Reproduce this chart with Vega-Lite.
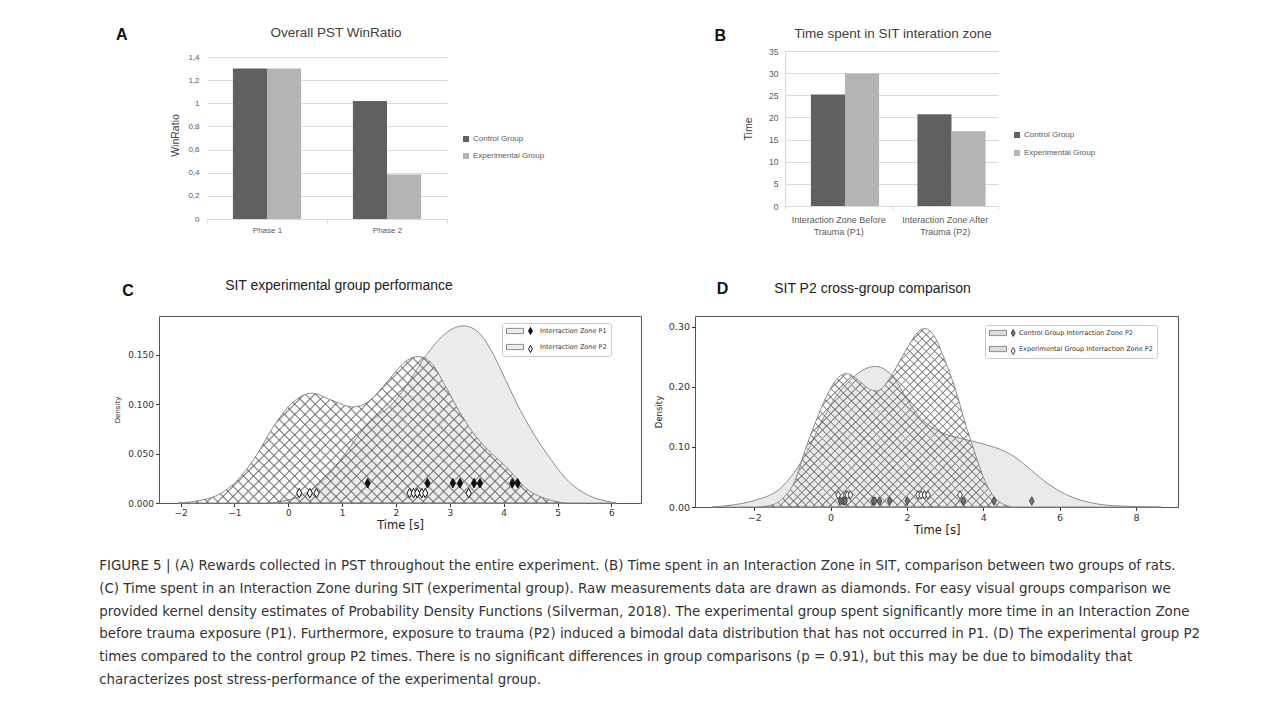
{
  "$schema": "https://vega.github.io/schema/vega-lite/v6.json",
  "background": "white",
  "padding": {"left": 99, "top": 26, "right": 5, "bottom": 5},
  "datasets": {
    "pst": [
      {"phase": "Phase 1", "group": "Control Group", "value": 1.30},
      {"phase": "Phase 1", "group": "Experimental Group", "value": 1.30},
      {"phase": "Phase 2", "group": "Control Group", "value": 1.02},
      {"phase": "Phase 2", "group": "Experimental Group", "value": 0.385}
    ],
    "sit": [
      {"zone": "Interaction Zone Before Trauma  (P1)", "group": "Control Group", "time": 25.2},
      {"zone": "Interaction Zone Before Trauma  (P1)", "group": "Experimental Group", "time": 29.9},
      {"zone": "Interaction Zone After Trauma (P2)", "group": "Control Group", "time": 20.7},
      {"zone": "Interaction Zone After Trauma (P2)", "group": "Experimental Group", "time": 16.9}
    ],
    "kdeC1": [
      {"t": -0.36, "d": 0}, {"t": -0.1, "d": 0.002}, {"t": 0.26, "d": 0.008}, {"t": 0.69, "d": 0.025},
      {"t": 1.06, "d": 0.05}, {"t": 1.4, "d": 0.075}, {"t": 1.65, "d": 0.088}, {"t": 1.93, "d": 0.1},
      {"t": 2.27, "d": 0.125}, {"t": 2.57, "d": 0.15}, {"t": 2.85, "d": 0.168}, {"t": 3.05, "d": 0.176},
      {"t": 3.25, "d": 0.179}, {"t": 3.45, "d": 0.176}, {"t": 3.62, "d": 0.167}, {"t": 3.81, "d": 0.15},
      {"t": 4.03, "d": 0.125}, {"t": 4.25, "d": 0.1}, {"t": 4.5, "d": 0.075}, {"t": 4.8, "d": 0.05},
      {"t": 5.15, "d": 0.025}, {"t": 5.6, "d": 0.007}, {"t": 5.9, "d": 0.002}, {"t": 6.09, "d": 0}
    ],
    "kdeC2": [
      {"t": -2.05, "d": 0}, {"t": -1.7, "d": 0.002}, {"t": -1.31, "d": 0.008}, {"t": -0.91, "d": 0.025},
      {"t": -0.57, "d": 0.05}, {"t": -0.3, "d": 0.075}, {"t": 0.05, "d": 0.1}, {"t": 0.44, "d": 0.111},
      {"t": 0.8, "d": 0.104}, {"t": 1.2, "d": 0.097}, {"t": 1.5, "d": 0.103}, {"t": 1.75, "d": 0.117},
      {"t": 2.0, "d": 0.133}, {"t": 2.2, "d": 0.144}, {"t": 2.42, "d": 0.148}, {"t": 2.65, "d": 0.142},
      {"t": 2.9, "d": 0.12}, {"t": 3.16, "d": 0.094}, {"t": 3.42, "d": 0.072}, {"t": 3.7, "d": 0.054},
      {"t": 4.02, "d": 0.038}, {"t": 4.46, "d": 0.013}, {"t": 4.8, "d": 0.004}, {"t": 5.15, "d": 0}
    ],
    "kdeD1": [
      {"t": -3.1, "d": 0}, {"t": -2.5, "d": 0.004}, {"t": -1.98, "d": 0.011}, {"t": -1.28, "d": 0.033},
      {"t": -0.85, "d": 0.067}, {"t": -0.55, "d": 0.1}, {"t": -0.25, "d": 0.14}, {"t": 0.1, "d": 0.18},
      {"t": 0.5, "d": 0.21}, {"t": 0.85, "d": 0.228}, {"t": 1.16, "d": 0.234}, {"t": 1.45, "d": 0.228},
      {"t": 1.69, "d": 0.212}, {"t": 2.0, "d": 0.18}, {"t": 2.3, "d": 0.152}, {"t": 2.6, "d": 0.135},
      {"t": 2.9, "d": 0.124}, {"t": 3.3, "d": 0.116}, {"t": 3.69, "d": 0.11}, {"t": 4.1, "d": 0.103},
      {"t": 4.48, "d": 0.095}, {"t": 4.83, "d": 0.083}, {"t": 5.26, "d": 0.061}, {"t": 5.69, "d": 0.039},
      {"t": 6.13, "d": 0.022}, {"t": 6.57, "d": 0.011}, {"t": 7.0, "d": 0.005}, {"t": 7.44, "d": 0.002},
      {"t": 8.66, "d": 0}
    ],
    "kdeD2": [
      {"t": -1.9, "d": 0}, {"t": -1.5, "d": 0.004}, {"t": -1.28, "d": 0.013}, {"t": -0.93, "d": 0.044},
      {"t": -0.67, "d": 0.094}, {"t": -0.4, "d": 0.14}, {"t": -0.1, "d": 0.185}, {"t": 0.15, "d": 0.212},
      {"t": 0.42, "d": 0.222}, {"t": 0.75, "d": 0.21}, {"t": 1.0, "d": 0.197}, {"t": 1.2, "d": 0.193},
      {"t": 1.45, "d": 0.205}, {"t": 1.68, "d": 0.228}, {"t": 2.03, "d": 0.267}, {"t": 2.3, "d": 0.292},
      {"t": 2.47, "d": 0.297}, {"t": 2.73, "d": 0.283}, {"t": 2.99, "d": 0.245}, {"t": 3.25, "d": 0.2},
      {"t": 3.56, "d": 0.133}, {"t": 3.78, "d": 0.09}, {"t": 4.0, "d": 0.05}, {"t": 4.31, "d": 0.015},
      {"t": 4.74, "d": 0}
    ],
    "ptsC": [
      {"series": "Interraction Zone P1", "t": 1.475, "d": 0.02},
      {"series": "Interraction Zone P1", "t": 2.586, "d": 0.02},
      {"series": "Interraction Zone P1", "t": 3.056, "d": 0.02},
      {"series": "Interraction Zone P1", "t": 3.19, "d": 0.02},
      {"series": "Interraction Zone P1", "t": 3.45, "d": 0.02},
      {"series": "Interraction Zone P1", "t": 3.56, "d": 0.02},
      {"series": "Interraction Zone P1", "t": 4.16, "d": 0.02},
      {"series": "Interraction Zone P1", "t": 4.26, "d": 0.02},
      {"series": "Interraction Zone P2", "t": 0.204, "d": 0.01},
      {"series": "Interraction Zone P2", "t": 0.4, "d": 0.01},
      {"series": "Interraction Zone P2", "t": 0.525, "d": 0.01},
      {"series": "Interraction Zone P2", "t": 2.253, "d": 0.01},
      {"series": "Interraction Zone P2", "t": 2.327, "d": 0.01},
      {"series": "Interraction Zone P2", "t": 2.395, "d": 0.01},
      {"series": "Interraction Zone P2", "t": 2.48, "d": 0.01},
      {"series": "Interraction Zone P2", "t": 2.543, "d": 0.01},
      {"series": "Interraction Zone P2", "t": 3.35, "d": 0.01}
    ],
    "ptsD": [
      {"series": "Experimental Group Interraction Zone P2", "t": 0.2, "d": 0.02},
      {"series": "Experimental Group Interraction Zone P2", "t": 0.4, "d": 0.02},
      {"series": "Experimental Group Interraction Zone P2", "t": 0.44, "d": 0.02},
      {"series": "Experimental Group Interraction Zone P2", "t": 0.52, "d": 0.02},
      {"series": "Experimental Group Interraction Zone P2", "t": 2.29, "d": 0.02},
      {"series": "Experimental Group Interraction Zone P2", "t": 2.37, "d": 0.02},
      {"series": "Experimental Group Interraction Zone P2", "t": 2.46, "d": 0.02},
      {"series": "Experimental Group Interraction Zone P2", "t": 2.55, "d": 0.02},
      {"series": "Experimental Group Interraction Zone P2", "t": 3.39, "d": 0.02},
      {"series": "Control Group  Interraction Zone P2", "t": 0.26, "d": 0.01},
      {"series": "Control Group  Interraction Zone P2", "t": 0.33, "d": 0.01},
      {"series": "Control Group  Interraction Zone P2", "t": 0.38, "d": 0.01},
      {"series": "Control Group  Interraction Zone P2", "t": 1.12, "d": 0.01},
      {"series": "Control Group  Interraction Zone P2", "t": 1.16, "d": 0.01},
      {"series": "Control Group  Interraction Zone P2", "t": 1.28, "d": 0.01},
      {"series": "Control Group  Interraction Zone P2", "t": 1.55, "d": 0.01},
      {"series": "Control Group  Interraction Zone P2", "t": 2.01, "d": 0.01},
      {"series": "Control Group  Interraction Zone P2", "t": 3.48, "d": 0.01},
      {"series": "Control Group  Interraction Zone P2", "t": 4.28, "d": 0.01},
      {"series": "Control Group  Interraction Zone P2", "t": 5.27, "d": 0.01}
    ]
  },
  "title": {
    "text": [
      "FIGURE 5 | (A) Rewards collected in PST throughout the entire experiment. (B) Time spent in an Interaction Zone in SIT, comparison between two groups of rats.",
      "(C) Time spent in an Interaction Zone during SIT (experimental group). Raw measurements data are drawn as diamonds. For easy visual groups comparison we",
      "provided kernel density estimates of Probability Density Functions (Silverman, 2018). The experimental group spent significantly more time in an Interaction Zone",
      "before trauma exposure (P1). Furthermore, exposure to trauma (P2) induced a bimodal data distribution that has not occurred in P1. (D) The experimental group P2",
      "times compared to the control group P2 times. There is no significant differences in group comparisons (p = 0.91), but this may be due to bimodality that",
      "characterizes post stress-performance of the experimental group."
    ],
    "orient": "bottom",
    "anchor": "start",
    "frame": "bounds",
    "font": "DejaVu Sans Condensed",
    "fontSize": 14.9,
    "fontWeight": "normal",
    "color": "#333333",
    "lineHeight": 22.8,
    "offset": 22,
    "dx": -14
  },
  "spacing": 42,
  "resolve": {"scale": {"color": "independent", "fill": "independent", "stroke": "independent"}, "legend": {"color": "independent", "fill": "independent", "stroke": "independent"}},
  "vconcat": [
    {
      "spacing": 169,
      "resolve": {"scale": {"color": "independent"}, "legend": {"color": "independent"}},
      "hconcat": [
        {
          "title": {"text": "A", "anchor": "start", "frame": "bounds", "font": "Liberation Sans", "fontSize": 16, "fontWeight": "bold", "color": "#111111", "offset": 0, "dx": -43, "dy": 17},
          "resolve": {"scale": {"color": "independent"}, "legend": {"color": "independent"}},
          "vconcat": [
            {
              "width": 288,
              "height": 168,
              "title": {"text": "Overall PST WinRatio", "anchor": "middle", "frame": "group", "font": "Liberation Sans", "fontSize": 13.5, "fontWeight": "normal", "color": "#404040", "offset": 11.5, "dx": 33},
              "data": {"name": "pst"},
              "mark": {"type": "bar"},
              "encoding": {
                "x": {"field": "phase", "type": "nominal", "sort": null,
                  "scale": {"range": [48, 288], "paddingInner": 0, "paddingOuter": 0},
                  "axis": {"title": null, "labelAngle": 0, "tickBand": "extent", "tickSize": 4, "tickColor": "#d9d9d9", "domainColor": "#d9d9d9", "labelColor": "#595959", "labelFontSize": 8, "labelPadding": 3, "labelFont": "Liberation Sans"}},
                "xOffset": {"field": "group", "type": "nominal", "sort": null, "scale": {"paddingInner": 0, "paddingOuter": 0.76}},
                "y": {"field": "value", "type": "quantitative",
                  "scale": {"domain": [0, 1.4519], "nice": false},
                  "axis": {"title": "WinRatio", "offset": -48, "values": [0, 0.2, 0.4, 0.6, 0.8, 1, 1.2, 1.4], "format": "~g", "labelExpr": "replace(datum.label, '.', ',')", "grid": true, "gridColor": "#d9d9d9", "domain": false, "ticks": false, "labelPadding": 8, "labelFontSize": 8, "labelColor": "#595959", "labelFont": "Liberation Sans", "titleFont": "Liberation Sans", "titleFontSize": 10.5, "titleFontWeight": "normal", "titleColor": "#404040", "titlePadding": 7}},
                "color": {"field": "group", "type": "nominal",
                  "scale": {"domain": ["Control Group", "Experimental Group"], "range": ["#606060", "#b4b4b4"]},
                  "legend": {"orient": "none", "legendX": 303, "legendY": 84, "title": null, "symbolType": "square", "symbolSize": 36, "labelFontSize": 8, "labelColor": "#595959", "labelFont": "Liberation Sans", "rowPadding": 9, "labelOffset": 3, "padding": 0}}
              }
            }
          ]
        },
        {
          "title": {"text": "B", "anchor": "start", "frame": "bounds", "font": "Liberation Sans", "fontSize": 16, "fontWeight": "bold", "color": "#111111", "offset": 0, "dx": -29, "dy": 17},
          "resolve": {"scale": {"color": "independent"}, "legend": {"color": "independent"}},
          "vconcat": [
            {
              "width": 213,
              "height": 155,
              "title": {"text": "Time spent in SIT interation zone", "anchor": "middle", "frame": "group", "font": "Liberation Sans", "fontSize": 13.5, "fontWeight": "normal", "color": "#404040", "offset": 7, "dx": 1.5},
              "data": {"name": "sit"},
              "mark": {"type": "bar"},
              "encoding": {
                "x": {"field": "zone", "type": "nominal", "sort": null,
                  "scale": {"paddingInner": 0, "paddingOuter": 0},
                  "axis": {"title": null, "labelAngle": 0, "tickBand": "extent", "tickSize": 4, "tickColor": "#d9d9d9", "domainColor": "#d9d9d9", "labelColor": "#595959", "labelFontSize": 9, "labelPadding": 5, "labelLineHeight": 12, "labelFont": "Liberation Sans", "labelExpr": "split(replace(datum.label, ' Trauma', '|Trauma'), '|')"}},
                "xOffset": {"field": "group", "type": "nominal", "sort": null, "scale": {"paddingInner": 0, "paddingOuter": 0.775}},
                "y": {"field": "time", "type": "quantitative",
                  "scale": {"domain": [0, 35], "nice": false},
                  "axis": {"title": "Time", "values": [0, 5, 10, 15, 20, 25, 30, 35], "grid": true, "gridColor": "#d9d9d9", "domainColor": "#d9d9d9", "ticks": false, "labelPadding": 7, "labelFontSize": 8.5, "labelColor": "#595959", "labelFont": "Liberation Sans", "titleFont": "Liberation Sans", "titleFontSize": 10.5, "titleFontWeight": "normal", "titleColor": "#404040", "titlePadding": 15}},
                "color": {"field": "group", "type": "nominal",
                  "scale": {"domain": ["Control Group", "Experimental Group"], "range": ["#606060", "#b4b4b4"]},
                  "legend": {"orient": "none", "legendX": 228, "legendY": 80, "title": null, "symbolType": "square", "symbolSize": 36, "labelFontSize": 8, "labelColor": "#595959", "labelFont": "Liberation Sans", "rowPadding": 10, "labelOffset": 3, "padding": 0}}
              }
            }
          ]
        }
      ]
    },
    {
      "spacing": 11,
      "resolve": {"scale": {"fill": "independent", "stroke": "independent"}, "legend": {"fill": "independent", "stroke": "independent"}},
      "hconcat": [
        {
          "title": {"text": "C", "anchor": "start", "frame": "bounds", "font": "Liberation Sans", "fontSize": 16, "fontWeight": "bold", "color": "#111111", "offset": 0, "dx": 9, "dy": 20},
          "resolve": {"scale": {"fill": "independent", "stroke": "independent"}, "legend": {"fill": "independent", "stroke": "independent"}},
          "vconcat": [
            {
              "width": 482,
              "height": 187,
              "view": {"stroke": "#555555", "strokeWidth": 1},
              "title": {"text": "SIT experimental group performance", "anchor": "middle", "frame": "group", "font": "Liberation Sans", "fontSize": 14, "fontWeight": "normal", "color": "#222222", "offset": 23, "dx": -61},
              "layer": [
                {
                  "data": {"name": "kdeC1"},
                  "mark": {"type": "area", "interpolate": "monotone", "fill": "#ececec", "strokeWidth": 1},
                  "encoding": {
                    "x": {"field": "t", "type": "quantitative", "scale": {"domain": [-2.4, 6.55], "nice": false, "zero": false},
                      "axis": {"title": "Time [s]", "values": [-2, -1, 0, 1, 2, 3, 4, 5, 6], "format": "d", "grid": false, "domain": false, "tickSize": 3.5, "tickColor": "#333333", "labelColor": "#333333", "labelFont": "DejaVu Sans", "labelFontSize": 9, "labelPadding": 2, "titleFont": "DejaVu Sans", "titleFontSize": 11.5, "titleFontWeight": "normal", "titleColor": "#222222", "titlePadding": 2}},
                    "y": {"field": "d", "type": "quantitative", "scale": {"domain": [0, 0.189], "nice": false},
                      "axis": {"title": "Density", "values": [0, 0.025, 0.05, 0.075, 0.1, 0.125, 0.15, 0.175], "format": ".3f", "grid": false, "domain": false, "tickSize": 3.5, "tickColor": "#333333", "labelColor": "#333333", "labelFont": "DejaVu Sans", "labelFontSize": 9, "labelPadding": 2, "titleFont": "DejaVu Sans", "titleFontSize": 7, "titleFontWeight": "normal", "titleColor": "#222222", "titlePadding": 7}},
                    "stroke": {"datum": "Interraction Zone P1", "type": "nominal",
                      "scale": {"domain": ["Interraction Zone P1", "Interraction Zone P2"], "range": ["#8c8c8c", "#8c8c8c"]},
                      "legend": {"orient": "none", "legendX": 343, "legendY": 7, "title": null, "symbolType": "M-1,-0.75H3.86V0.75H-1Z", "symbolSize": 49, "symbolStrokeWidth": 1, "labelFont": "DejaVu Sans", "labelFontSize": 6.5, "labelColor": "#333333", "labelOffset": 26, "rowPadding": 6, "padding": 4, "strokeColor": "#cccccc", "cornerRadius": 2,
                        "encode": {"symbols": {"update": {"fill": {"value": "#ececec"}, "stroke": {"value": "#8c8c8c"}, "strokeWidth": {"value": 1}}}}}}
                  }
                },
                {
                  "data": {"name": "kdeC2"},
                  "mark": {"type": "area", "interpolate": "monotone", "strokeWidth": 1,
                    "fill": {"gradient": "linear", "x1": 0, "y1": 0, "x2": 1.2057, "y2": 0.4553, "stops": [{"offset":0.0167,"color":"transparent"},{"offset":0.0192,"color":"#999"},{"offset":0.0217,"color":"transparent"},{"offset":0.036,"color":"transparent"},{"offset":0.0385,"color":"#999"},{"offset":0.041,"color":"transparent"},{"offset":0.0552,"color":"transparent"},{"offset":0.0577,"color":"#999"},{"offset":0.0602,"color":"transparent"},{"offset":0.0744,"color":"transparent"},{"offset":0.0769,"color":"#999"},{"offset":0.0794,"color":"transparent"},{"offset":0.0937,"color":"transparent"},{"offset":0.0962,"color":"#999"},{"offset":0.0987,"color":"transparent"},{"offset":0.1129,"color":"transparent"},{"offset":0.1154,"color":"#999"},{"offset":0.1179,"color":"transparent"},{"offset":0.1321,"color":"transparent"},{"offset":0.1346,"color":"#999"},{"offset":0.1371,"color":"transparent"},{"offset":0.1513,"color":"transparent"},{"offset":0.1538,"color":"#999"},{"offset":0.1563,"color":"transparent"},{"offset":0.1706,"color":"transparent"},{"offset":0.1731,"color":"#999"},{"offset":0.1756,"color":"transparent"},{"offset":0.1898,"color":"transparent"},{"offset":0.1923,"color":"#999"},{"offset":0.1948,"color":"transparent"},{"offset":0.209,"color":"transparent"},{"offset":0.2115,"color":"#999"},{"offset":0.214,"color":"transparent"},{"offset":0.2283,"color":"transparent"},{"offset":0.2308,"color":"#999"},{"offset":0.2333,"color":"transparent"},{"offset":0.2475,"color":"transparent"},{"offset":0.25,"color":"#999"},{"offset":0.2525,"color":"transparent"},{"offset":0.2667,"color":"transparent"},{"offset":0.2692,"color":"#999"},{"offset":0.2717,"color":"transparent"},{"offset":0.286,"color":"transparent"},{"offset":0.2885,"color":"#999"},{"offset":0.291,"color":"transparent"},{"offset":0.3052,"color":"transparent"},{"offset":0.3077,"color":"#999"},{"offset":0.3102,"color":"transparent"},{"offset":0.3244,"color":"transparent"},{"offset":0.3269,"color":"#999"},{"offset":0.3294,"color":"transparent"},{"offset":0.3437,"color":"transparent"},{"offset":0.3462,"color":"#999"},{"offset":0.3487,"color":"transparent"},{"offset":0.3629,"color":"transparent"},{"offset":0.3654,"color":"#999"},{"offset":0.3679,"color":"transparent"},{"offset":0.3821,"color":"transparent"},{"offset":0.3846,"color":"#999"},{"offset":0.3871,"color":"transparent"},{"offset":0.4013,"color":"transparent"},{"offset":0.4038,"color":"#999"},{"offset":0.4063,"color":"transparent"},{"offset":0.4206,"color":"transparent"},{"offset":0.4231,"color":"#999"},{"offset":0.4256,"color":"transparent"},{"offset":0.4398,"color":"transparent"},{"offset":0.4423,"color":"#999"},{"offset":0.4448,"color":"transparent"},{"offset":0.459,"color":"transparent"},{"offset":0.4615,"color":"#999"},{"offset":0.464,"color":"transparent"},{"offset":0.4783,"color":"transparent"},{"offset":0.4808,"color":"#999"},{"offset":0.4833,"color":"transparent"},{"offset":0.4975,"color":"transparent"},{"offset":0.5,"color":"#999"},{"offset":0.5025,"color":"transparent"},{"offset":0.5167,"color":"transparent"},{"offset":0.5192,"color":"#999"},{"offset":0.5217,"color":"transparent"},{"offset":0.536,"color":"transparent"},{"offset":0.5385,"color":"#999"},{"offset":0.541,"color":"transparent"},{"offset":0.5552,"color":"transparent"},{"offset":0.5577,"color":"#999"},{"offset":0.5602,"color":"transparent"},{"offset":0.5744,"color":"transparent"},{"offset":0.5769,"color":"#999"},{"offset":0.5794,"color":"transparent"},{"offset":0.5937,"color":"transparent"},{"offset":0.5962,"color":"#999"},{"offset":0.5987,"color":"transparent"},{"offset":0.6129,"color":"transparent"},{"offset":0.6154,"color":"#999"},{"offset":0.6179,"color":"transparent"},{"offset":0.6321,"color":"transparent"},{"offset":0.6346,"color":"#999"},{"offset":0.6371,"color":"transparent"},{"offset":0.6513,"color":"transparent"},{"offset":0.6538,"color":"#999"},{"offset":0.6563,"color":"transparent"},{"offset":0.6706,"color":"transparent"},{"offset":0.6731,"color":"#999"},{"offset":0.6756,"color":"transparent"},{"offset":0.6898,"color":"transparent"},{"offset":0.6923,"color":"#999"},{"offset":0.6948,"color":"transparent"},{"offset":0.709,"color":"transparent"},{"offset":0.7115,"color":"#999"},{"offset":0.714,"color":"transparent"},{"offset":0.7283,"color":"transparent"},{"offset":0.7308,"color":"#999"},{"offset":0.7333,"color":"transparent"},{"offset":0.7475,"color":"transparent"},{"offset":0.75,"color":"#999"},{"offset":0.7525,"color":"transparent"},{"offset":0.7667,"color":"transparent"},{"offset":0.7692,"color":"#999"},{"offset":0.7717,"color":"transparent"},{"offset":0.786,"color":"transparent"},{"offset":0.7885,"color":"#999"},{"offset":0.791,"color":"transparent"},{"offset":0.8052,"color":"transparent"},{"offset":0.8077,"color":"#999"},{"offset":0.8102,"color":"transparent"},{"offset":0.8244,"color":"transparent"},{"offset":0.8269,"color":"#999"},{"offset":0.8294,"color":"transparent"},{"offset":0.8437,"color":"transparent"},{"offset":0.8462,"color":"#999"},{"offset":0.8487,"color":"transparent"},{"offset":0.8629,"color":"transparent"},{"offset":0.8654,"color":"#999"},{"offset":0.8679,"color":"transparent"},{"offset":0.8821,"color":"transparent"},{"offset":0.8846,"color":"#999"},{"offset":0.8871,"color":"transparent"},{"offset":0.9013,"color":"transparent"},{"offset":0.9038,"color":"#999"},{"offset":0.9063,"color":"transparent"},{"offset":0.9206,"color":"transparent"},{"offset":0.9231,"color":"#999"},{"offset":0.9256,"color":"transparent"},{"offset":0.9398,"color":"transparent"},{"offset":0.9423,"color":"#999"},{"offset":0.9448,"color":"transparent"},{"offset":0.959,"color":"transparent"},{"offset":0.9615,"color":"#999"},{"offset":0.964,"color":"transparent"},{"offset":0.9783,"color":"transparent"},{"offset":0.9808,"color":"#999"},{"offset":0.9833,"color":"transparent"}]}},
                  "encoding": {
                    "x": {"field": "t", "type": "quantitative"},
                    "y": {"field": "d", "type": "quantitative"},
                    "stroke": {"datum": "Interraction Zone P2", "type": "nominal"}
                  }
                },
                {
                  "data": {"name": "kdeC2"},
                  "mark": {"type": "area", "interpolate": "monotone", "strokeWidth": 0,
                    "fill": {"gradient": "linear", "x1": 1, "y1": 0, "x2": -0.2057, "y2": 0.4553, "stops": [{"offset":0.0167,"color":"transparent"},{"offset":0.0192,"color":"#999"},{"offset":0.0217,"color":"transparent"},{"offset":0.036,"color":"transparent"},{"offset":0.0385,"color":"#999"},{"offset":0.041,"color":"transparent"},{"offset":0.0552,"color":"transparent"},{"offset":0.0577,"color":"#999"},{"offset":0.0602,"color":"transparent"},{"offset":0.0744,"color":"transparent"},{"offset":0.0769,"color":"#999"},{"offset":0.0794,"color":"transparent"},{"offset":0.0937,"color":"transparent"},{"offset":0.0962,"color":"#999"},{"offset":0.0987,"color":"transparent"},{"offset":0.1129,"color":"transparent"},{"offset":0.1154,"color":"#999"},{"offset":0.1179,"color":"transparent"},{"offset":0.1321,"color":"transparent"},{"offset":0.1346,"color":"#999"},{"offset":0.1371,"color":"transparent"},{"offset":0.1513,"color":"transparent"},{"offset":0.1538,"color":"#999"},{"offset":0.1563,"color":"transparent"},{"offset":0.1706,"color":"transparent"},{"offset":0.1731,"color":"#999"},{"offset":0.1756,"color":"transparent"},{"offset":0.1898,"color":"transparent"},{"offset":0.1923,"color":"#999"},{"offset":0.1948,"color":"transparent"},{"offset":0.209,"color":"transparent"},{"offset":0.2115,"color":"#999"},{"offset":0.214,"color":"transparent"},{"offset":0.2283,"color":"transparent"},{"offset":0.2308,"color":"#999"},{"offset":0.2333,"color":"transparent"},{"offset":0.2475,"color":"transparent"},{"offset":0.25,"color":"#999"},{"offset":0.2525,"color":"transparent"},{"offset":0.2667,"color":"transparent"},{"offset":0.2692,"color":"#999"},{"offset":0.2717,"color":"transparent"},{"offset":0.286,"color":"transparent"},{"offset":0.2885,"color":"#999"},{"offset":0.291,"color":"transparent"},{"offset":0.3052,"color":"transparent"},{"offset":0.3077,"color":"#999"},{"offset":0.3102,"color":"transparent"},{"offset":0.3244,"color":"transparent"},{"offset":0.3269,"color":"#999"},{"offset":0.3294,"color":"transparent"},{"offset":0.3437,"color":"transparent"},{"offset":0.3462,"color":"#999"},{"offset":0.3487,"color":"transparent"},{"offset":0.3629,"color":"transparent"},{"offset":0.3654,"color":"#999"},{"offset":0.3679,"color":"transparent"},{"offset":0.3821,"color":"transparent"},{"offset":0.3846,"color":"#999"},{"offset":0.3871,"color":"transparent"},{"offset":0.4013,"color":"transparent"},{"offset":0.4038,"color":"#999"},{"offset":0.4063,"color":"transparent"},{"offset":0.4206,"color":"transparent"},{"offset":0.4231,"color":"#999"},{"offset":0.4256,"color":"transparent"},{"offset":0.4398,"color":"transparent"},{"offset":0.4423,"color":"#999"},{"offset":0.4448,"color":"transparent"},{"offset":0.459,"color":"transparent"},{"offset":0.4615,"color":"#999"},{"offset":0.464,"color":"transparent"},{"offset":0.4783,"color":"transparent"},{"offset":0.4808,"color":"#999"},{"offset":0.4833,"color":"transparent"},{"offset":0.4975,"color":"transparent"},{"offset":0.5,"color":"#999"},{"offset":0.5025,"color":"transparent"},{"offset":0.5167,"color":"transparent"},{"offset":0.5192,"color":"#999"},{"offset":0.5217,"color":"transparent"},{"offset":0.536,"color":"transparent"},{"offset":0.5385,"color":"#999"},{"offset":0.541,"color":"transparent"},{"offset":0.5552,"color":"transparent"},{"offset":0.5577,"color":"#999"},{"offset":0.5602,"color":"transparent"},{"offset":0.5744,"color":"transparent"},{"offset":0.5769,"color":"#999"},{"offset":0.5794,"color":"transparent"},{"offset":0.5937,"color":"transparent"},{"offset":0.5962,"color":"#999"},{"offset":0.5987,"color":"transparent"},{"offset":0.6129,"color":"transparent"},{"offset":0.6154,"color":"#999"},{"offset":0.6179,"color":"transparent"},{"offset":0.6321,"color":"transparent"},{"offset":0.6346,"color":"#999"},{"offset":0.6371,"color":"transparent"},{"offset":0.6513,"color":"transparent"},{"offset":0.6538,"color":"#999"},{"offset":0.6563,"color":"transparent"},{"offset":0.6706,"color":"transparent"},{"offset":0.6731,"color":"#999"},{"offset":0.6756,"color":"transparent"},{"offset":0.6898,"color":"transparent"},{"offset":0.6923,"color":"#999"},{"offset":0.6948,"color":"transparent"},{"offset":0.709,"color":"transparent"},{"offset":0.7115,"color":"#999"},{"offset":0.714,"color":"transparent"},{"offset":0.7283,"color":"transparent"},{"offset":0.7308,"color":"#999"},{"offset":0.7333,"color":"transparent"},{"offset":0.7475,"color":"transparent"},{"offset":0.75,"color":"#999"},{"offset":0.7525,"color":"transparent"},{"offset":0.7667,"color":"transparent"},{"offset":0.7692,"color":"#999"},{"offset":0.7717,"color":"transparent"},{"offset":0.786,"color":"transparent"},{"offset":0.7885,"color":"#999"},{"offset":0.791,"color":"transparent"},{"offset":0.8052,"color":"transparent"},{"offset":0.8077,"color":"#999"},{"offset":0.8102,"color":"transparent"},{"offset":0.8244,"color":"transparent"},{"offset":0.8269,"color":"#999"},{"offset":0.8294,"color":"transparent"},{"offset":0.8437,"color":"transparent"},{"offset":0.8462,"color":"#999"},{"offset":0.8487,"color":"transparent"},{"offset":0.8629,"color":"transparent"},{"offset":0.8654,"color":"#999"},{"offset":0.8679,"color":"transparent"},{"offset":0.8821,"color":"transparent"},{"offset":0.8846,"color":"#999"},{"offset":0.8871,"color":"transparent"},{"offset":0.9013,"color":"transparent"},{"offset":0.9038,"color":"#999"},{"offset":0.9063,"color":"transparent"},{"offset":0.9206,"color":"transparent"},{"offset":0.9231,"color":"#999"},{"offset":0.9256,"color":"transparent"},{"offset":0.9398,"color":"transparent"},{"offset":0.9423,"color":"#999"},{"offset":0.9448,"color":"transparent"},{"offset":0.959,"color":"transparent"},{"offset":0.9615,"color":"#999"},{"offset":0.964,"color":"transparent"},{"offset":0.9783,"color":"transparent"},{"offset":0.9808,"color":"#999"},{"offset":0.9833,"color":"transparent"}]}},
                  "encoding": {
                    "x": {"field": "t", "type": "quantitative"},
                    "y": {"field": "d", "type": "quantitative"}
                  }
                },
                {
                  "data": {"name": "ptsC"},
                  "mark": {"type": "point", "shape": "M0,-1L0.55,0L0,1L-0.55,0Z", "size": 90, "filled": true, "opacity": 1, "stroke": "#111111", "strokeWidth": 1},
                  "encoding": {
                    "x": {"field": "t", "type": "quantitative"},
                    "y": {"field": "d", "type": "quantitative"},
                    "fill": {"field": "series", "type": "nominal",
                      "scale": {"range": ["#111111", "#ffffff"]},
                      "legend": {"orient": "none", "legendX": 367.5, "legendY": 11, "title": null, "symbolType": "M0,-1L0.55,0L0,1L-0.55,0Z", "symbolSize": 49, "symbolStrokeColor": "#111111", "symbolStrokeWidth": 1, "labelFont": "DejaVu Sans", "labelFontSize": 6.5, "labelOpacity": 0, "rowPadding": 6, "padding": 0}}
                  }
                }
              ]
            }
          ]
        },
        {
          "title": {"text": "D", "anchor": "start", "frame": "bounds", "font": "Liberation Sans", "fontSize": 16, "fontWeight": "bold", "color": "#111111", "offset": 0, "dx": 63, "dy": 16},
          "resolve": {"scale": {"fill": "independent", "stroke": "independent"}, "legend": {"fill": "independent", "stroke": "independent"}},
          "vconcat": [
            {
              "width": 483,
              "height": 191,
              "view": {"stroke": "#555555", "strokeWidth": 1},
              "title": {"text": "SIT P2 cross-group comparison", "anchor": "middle", "frame": "group", "font": "Liberation Sans", "fontSize": 14, "fontWeight": "normal", "color": "#222222", "offset": 20.5, "dx": -64},
              "layer": [
                {
                  "data": {"name": "kdeD1"},
                  "mark": {"type": "area", "interpolate": "monotone", "fill": "#dcdcdc", "fillOpacity": 0.6, "strokeWidth": 1},
                  "encoding": {
                    "x": {"field": "t", "type": "quantitative", "scale": {"domain": [-3.55, 9.1], "nice": false, "zero": false},
                      "axis": {"title": "Time [s]", "values": [-2, 0, 2, 4, 6, 8], "format": "d", "grid": false, "domain": false, "tickSize": 3.5, "tickColor": "#333333", "labelColor": "#333333", "labelFont": "DejaVu Sans", "labelFontSize": 9.5, "labelPadding": 2, "titleFont": "DejaVu Sans", "titleFontSize": 11.5, "titleFontWeight": "normal", "titleColor": "#222222", "titlePadding": 2}},
                    "y": {"field": "d", "type": "quantitative", "scale": {"domain": [0, 0.3179], "nice": false},
                      "axis": {"title": "Density", "values": [0, 0.05, 0.1, 0.15, 0.2, 0.25, 0.3], "format": ".2f", "grid": false, "domain": false, "tickSize": 3.5, "tickColor": "#333333", "labelColor": "#333333", "labelFont": "DejaVu Sans", "labelFontSize": 9.5, "labelPadding": 2, "titleFont": "DejaVu Sans", "titleFontSize": 8.5, "titleFontWeight": "normal", "titleColor": "#222222", "titlePadding": 5}},
                    "stroke": {"datum": "Control Group  Interraction Zone P2", "type": "nominal",
                      "scale": {"domain": ["Control Group  Interraction Zone P2", "Experimental Group Interraction Zone P2"], "range": ["#8c8c8c", "#8c8c8c"]},
                      "legend": {"orient": "none", "legendX": 290, "legendY": 9, "title": null, "symbolType": "M-1,-0.75H3.86V0.75H-1Z", "symbolSize": 49, "symbolStrokeWidth": 1, "labelFont": "DejaVu Sans", "labelFontSize": 6.5, "labelColor": "#333333", "labelOffset": 22, "rowPadding": 6, "padding": 4, "strokeColor": "#cccccc", "cornerRadius": 2,
                        "encode": {"symbols": {"update": {"fill": {"value": "#ececec"}, "stroke": {"value": "#8c8c8c"}, "strokeWidth": {"value": 1}}}}}}
                  }
                },
                {
                  "data": {"name": "kdeD2"},
                  "mark": {"type": "area", "interpolate": "monotone", "strokeWidth": 1,
                    "fill": {"gradient": "linear", "x1": 0, "y1": 0, "x2": 1.1393, "y2": 0.8021, "stops": [{"offset":0.0167,"color":"transparent"},{"offset":0.0192,"color":"#999"},{"offset":0.0217,"color":"transparent"},{"offset":0.036,"color":"transparent"},{"offset":0.0385,"color":"#999"},{"offset":0.041,"color":"transparent"},{"offset":0.0552,"color":"transparent"},{"offset":0.0577,"color":"#999"},{"offset":0.0602,"color":"transparent"},{"offset":0.0744,"color":"transparent"},{"offset":0.0769,"color":"#999"},{"offset":0.0794,"color":"transparent"},{"offset":0.0937,"color":"transparent"},{"offset":0.0962,"color":"#999"},{"offset":0.0987,"color":"transparent"},{"offset":0.1129,"color":"transparent"},{"offset":0.1154,"color":"#999"},{"offset":0.1179,"color":"transparent"},{"offset":0.1321,"color":"transparent"},{"offset":0.1346,"color":"#999"},{"offset":0.1371,"color":"transparent"},{"offset":0.1513,"color":"transparent"},{"offset":0.1538,"color":"#999"},{"offset":0.1563,"color":"transparent"},{"offset":0.1706,"color":"transparent"},{"offset":0.1731,"color":"#999"},{"offset":0.1756,"color":"transparent"},{"offset":0.1898,"color":"transparent"},{"offset":0.1923,"color":"#999"},{"offset":0.1948,"color":"transparent"},{"offset":0.209,"color":"transparent"},{"offset":0.2115,"color":"#999"},{"offset":0.214,"color":"transparent"},{"offset":0.2283,"color":"transparent"},{"offset":0.2308,"color":"#999"},{"offset":0.2333,"color":"transparent"},{"offset":0.2475,"color":"transparent"},{"offset":0.25,"color":"#999"},{"offset":0.2525,"color":"transparent"},{"offset":0.2667,"color":"transparent"},{"offset":0.2692,"color":"#999"},{"offset":0.2717,"color":"transparent"},{"offset":0.286,"color":"transparent"},{"offset":0.2885,"color":"#999"},{"offset":0.291,"color":"transparent"},{"offset":0.3052,"color":"transparent"},{"offset":0.3077,"color":"#999"},{"offset":0.3102,"color":"transparent"},{"offset":0.3244,"color":"transparent"},{"offset":0.3269,"color":"#999"},{"offset":0.3294,"color":"transparent"},{"offset":0.3437,"color":"transparent"},{"offset":0.3462,"color":"#999"},{"offset":0.3487,"color":"transparent"},{"offset":0.3629,"color":"transparent"},{"offset":0.3654,"color":"#999"},{"offset":0.3679,"color":"transparent"},{"offset":0.3821,"color":"transparent"},{"offset":0.3846,"color":"#999"},{"offset":0.3871,"color":"transparent"},{"offset":0.4013,"color":"transparent"},{"offset":0.4038,"color":"#999"},{"offset":0.4063,"color":"transparent"},{"offset":0.4206,"color":"transparent"},{"offset":0.4231,"color":"#999"},{"offset":0.4256,"color":"transparent"},{"offset":0.4398,"color":"transparent"},{"offset":0.4423,"color":"#999"},{"offset":0.4448,"color":"transparent"},{"offset":0.459,"color":"transparent"},{"offset":0.4615,"color":"#999"},{"offset":0.464,"color":"transparent"},{"offset":0.4783,"color":"transparent"},{"offset":0.4808,"color":"#999"},{"offset":0.4833,"color":"transparent"},{"offset":0.4975,"color":"transparent"},{"offset":0.5,"color":"#999"},{"offset":0.5025,"color":"transparent"},{"offset":0.5167,"color":"transparent"},{"offset":0.5192,"color":"#999"},{"offset":0.5217,"color":"transparent"},{"offset":0.536,"color":"transparent"},{"offset":0.5385,"color":"#999"},{"offset":0.541,"color":"transparent"},{"offset":0.5552,"color":"transparent"},{"offset":0.5577,"color":"#999"},{"offset":0.5602,"color":"transparent"},{"offset":0.5744,"color":"transparent"},{"offset":0.5769,"color":"#999"},{"offset":0.5794,"color":"transparent"},{"offset":0.5937,"color":"transparent"},{"offset":0.5962,"color":"#999"},{"offset":0.5987,"color":"transparent"},{"offset":0.6129,"color":"transparent"},{"offset":0.6154,"color":"#999"},{"offset":0.6179,"color":"transparent"},{"offset":0.6321,"color":"transparent"},{"offset":0.6346,"color":"#999"},{"offset":0.6371,"color":"transparent"},{"offset":0.6513,"color":"transparent"},{"offset":0.6538,"color":"#999"},{"offset":0.6563,"color":"transparent"},{"offset":0.6706,"color":"transparent"},{"offset":0.6731,"color":"#999"},{"offset":0.6756,"color":"transparent"},{"offset":0.6898,"color":"transparent"},{"offset":0.6923,"color":"#999"},{"offset":0.6948,"color":"transparent"},{"offset":0.709,"color":"transparent"},{"offset":0.7115,"color":"#999"},{"offset":0.714,"color":"transparent"},{"offset":0.7283,"color":"transparent"},{"offset":0.7308,"color":"#999"},{"offset":0.7333,"color":"transparent"},{"offset":0.7475,"color":"transparent"},{"offset":0.75,"color":"#999"},{"offset":0.7525,"color":"transparent"},{"offset":0.7667,"color":"transparent"},{"offset":0.7692,"color":"#999"},{"offset":0.7717,"color":"transparent"},{"offset":0.786,"color":"transparent"},{"offset":0.7885,"color":"#999"},{"offset":0.791,"color":"transparent"},{"offset":0.8052,"color":"transparent"},{"offset":0.8077,"color":"#999"},{"offset":0.8102,"color":"transparent"},{"offset":0.8244,"color":"transparent"},{"offset":0.8269,"color":"#999"},{"offset":0.8294,"color":"transparent"},{"offset":0.8437,"color":"transparent"},{"offset":0.8462,"color":"#999"},{"offset":0.8487,"color":"transparent"},{"offset":0.8629,"color":"transparent"},{"offset":0.8654,"color":"#999"},{"offset":0.8679,"color":"transparent"},{"offset":0.8821,"color":"transparent"},{"offset":0.8846,"color":"#999"},{"offset":0.8871,"color":"transparent"},{"offset":0.9013,"color":"transparent"},{"offset":0.9038,"color":"#999"},{"offset":0.9063,"color":"transparent"},{"offset":0.9206,"color":"transparent"},{"offset":0.9231,"color":"#999"},{"offset":0.9256,"color":"transparent"},{"offset":0.9398,"color":"transparent"},{"offset":0.9423,"color":"#999"},{"offset":0.9448,"color":"transparent"},{"offset":0.959,"color":"transparent"},{"offset":0.9615,"color":"#999"},{"offset":0.964,"color":"transparent"},{"offset":0.9783,"color":"transparent"},{"offset":0.9808,"color":"#999"},{"offset":0.9833,"color":"transparent"}]}},
                  "encoding": {
                    "x": {"field": "t", "type": "quantitative"},
                    "y": {"field": "d", "type": "quantitative"},
                    "stroke": {"datum": "Experimental Group Interraction Zone P2", "type": "nominal"}
                  }
                },
                {
                  "data": {"name": "kdeD2"},
                  "mark": {"type": "area", "interpolate": "monotone", "strokeWidth": 0,
                    "fill": {"gradient": "linear", "x1": 1, "y1": 0, "x2": -0.1393, "y2": 0.8021, "stops": [{"offset":0.0167,"color":"transparent"},{"offset":0.0192,"color":"#999"},{"offset":0.0217,"color":"transparent"},{"offset":0.036,"color":"transparent"},{"offset":0.0385,"color":"#999"},{"offset":0.041,"color":"transparent"},{"offset":0.0552,"color":"transparent"},{"offset":0.0577,"color":"#999"},{"offset":0.0602,"color":"transparent"},{"offset":0.0744,"color":"transparent"},{"offset":0.0769,"color":"#999"},{"offset":0.0794,"color":"transparent"},{"offset":0.0937,"color":"transparent"},{"offset":0.0962,"color":"#999"},{"offset":0.0987,"color":"transparent"},{"offset":0.1129,"color":"transparent"},{"offset":0.1154,"color":"#999"},{"offset":0.1179,"color":"transparent"},{"offset":0.1321,"color":"transparent"},{"offset":0.1346,"color":"#999"},{"offset":0.1371,"color":"transparent"},{"offset":0.1513,"color":"transparent"},{"offset":0.1538,"color":"#999"},{"offset":0.1563,"color":"transparent"},{"offset":0.1706,"color":"transparent"},{"offset":0.1731,"color":"#999"},{"offset":0.1756,"color":"transparent"},{"offset":0.1898,"color":"transparent"},{"offset":0.1923,"color":"#999"},{"offset":0.1948,"color":"transparent"},{"offset":0.209,"color":"transparent"},{"offset":0.2115,"color":"#999"},{"offset":0.214,"color":"transparent"},{"offset":0.2283,"color":"transparent"},{"offset":0.2308,"color":"#999"},{"offset":0.2333,"color":"transparent"},{"offset":0.2475,"color":"transparent"},{"offset":0.25,"color":"#999"},{"offset":0.2525,"color":"transparent"},{"offset":0.2667,"color":"transparent"},{"offset":0.2692,"color":"#999"},{"offset":0.2717,"color":"transparent"},{"offset":0.286,"color":"transparent"},{"offset":0.2885,"color":"#999"},{"offset":0.291,"color":"transparent"},{"offset":0.3052,"color":"transparent"},{"offset":0.3077,"color":"#999"},{"offset":0.3102,"color":"transparent"},{"offset":0.3244,"color":"transparent"},{"offset":0.3269,"color":"#999"},{"offset":0.3294,"color":"transparent"},{"offset":0.3437,"color":"transparent"},{"offset":0.3462,"color":"#999"},{"offset":0.3487,"color":"transparent"},{"offset":0.3629,"color":"transparent"},{"offset":0.3654,"color":"#999"},{"offset":0.3679,"color":"transparent"},{"offset":0.3821,"color":"transparent"},{"offset":0.3846,"color":"#999"},{"offset":0.3871,"color":"transparent"},{"offset":0.4013,"color":"transparent"},{"offset":0.4038,"color":"#999"},{"offset":0.4063,"color":"transparent"},{"offset":0.4206,"color":"transparent"},{"offset":0.4231,"color":"#999"},{"offset":0.4256,"color":"transparent"},{"offset":0.4398,"color":"transparent"},{"offset":0.4423,"color":"#999"},{"offset":0.4448,"color":"transparent"},{"offset":0.459,"color":"transparent"},{"offset":0.4615,"color":"#999"},{"offset":0.464,"color":"transparent"},{"offset":0.4783,"color":"transparent"},{"offset":0.4808,"color":"#999"},{"offset":0.4833,"color":"transparent"},{"offset":0.4975,"color":"transparent"},{"offset":0.5,"color":"#999"},{"offset":0.5025,"color":"transparent"},{"offset":0.5167,"color":"transparent"},{"offset":0.5192,"color":"#999"},{"offset":0.5217,"color":"transparent"},{"offset":0.536,"color":"transparent"},{"offset":0.5385,"color":"#999"},{"offset":0.541,"color":"transparent"},{"offset":0.5552,"color":"transparent"},{"offset":0.5577,"color":"#999"},{"offset":0.5602,"color":"transparent"},{"offset":0.5744,"color":"transparent"},{"offset":0.5769,"color":"#999"},{"offset":0.5794,"color":"transparent"},{"offset":0.5937,"color":"transparent"},{"offset":0.5962,"color":"#999"},{"offset":0.5987,"color":"transparent"},{"offset":0.6129,"color":"transparent"},{"offset":0.6154,"color":"#999"},{"offset":0.6179,"color":"transparent"},{"offset":0.6321,"color":"transparent"},{"offset":0.6346,"color":"#999"},{"offset":0.6371,"color":"transparent"},{"offset":0.6513,"color":"transparent"},{"offset":0.6538,"color":"#999"},{"offset":0.6563,"color":"transparent"},{"offset":0.6706,"color":"transparent"},{"offset":0.6731,"color":"#999"},{"offset":0.6756,"color":"transparent"},{"offset":0.6898,"color":"transparent"},{"offset":0.6923,"color":"#999"},{"offset":0.6948,"color":"transparent"},{"offset":0.709,"color":"transparent"},{"offset":0.7115,"color":"#999"},{"offset":0.714,"color":"transparent"},{"offset":0.7283,"color":"transparent"},{"offset":0.7308,"color":"#999"},{"offset":0.7333,"color":"transparent"},{"offset":0.7475,"color":"transparent"},{"offset":0.75,"color":"#999"},{"offset":0.7525,"color":"transparent"},{"offset":0.7667,"color":"transparent"},{"offset":0.7692,"color":"#999"},{"offset":0.7717,"color":"transparent"},{"offset":0.786,"color":"transparent"},{"offset":0.7885,"color":"#999"},{"offset":0.791,"color":"transparent"},{"offset":0.8052,"color":"transparent"},{"offset":0.8077,"color":"#999"},{"offset":0.8102,"color":"transparent"},{"offset":0.8244,"color":"transparent"},{"offset":0.8269,"color":"#999"},{"offset":0.8294,"color":"transparent"},{"offset":0.8437,"color":"transparent"},{"offset":0.8462,"color":"#999"},{"offset":0.8487,"color":"transparent"},{"offset":0.8629,"color":"transparent"},{"offset":0.8654,"color":"#999"},{"offset":0.8679,"color":"transparent"},{"offset":0.8821,"color":"transparent"},{"offset":0.8846,"color":"#999"},{"offset":0.8871,"color":"transparent"},{"offset":0.9013,"color":"transparent"},{"offset":0.9038,"color":"#999"},{"offset":0.9063,"color":"transparent"},{"offset":0.9206,"color":"transparent"},{"offset":0.9231,"color":"#999"},{"offset":0.9256,"color":"transparent"},{"offset":0.9398,"color":"transparent"},{"offset":0.9423,"color":"#999"},{"offset":0.9448,"color":"transparent"},{"offset":0.959,"color":"transparent"},{"offset":0.9615,"color":"#999"},{"offset":0.964,"color":"transparent"},{"offset":0.9783,"color":"transparent"},{"offset":0.9808,"color":"#999"},{"offset":0.9833,"color":"transparent"}]}},
                  "encoding": {
                    "x": {"field": "t", "type": "quantitative"},
                    "y": {"field": "d", "type": "quantitative"}
                  }
                },
                {
                  "data": {"name": "ptsD"},
                  "mark": {"type": "point", "shape": "M0,-1L0.55,0L0,1L-0.55,0Z", "size": 70, "filled": true, "opacity": 1, "stroke": "#444444", "strokeWidth": 1},
                  "encoding": {
                    "x": {"field": "t", "type": "quantitative"},
                    "y": {"field": "d", "type": "quantitative"},
                    "fill": {"field": "series", "type": "nominal",
                      "scale": {"range": ["#777777", "#ffffff"]},
                      "legend": {"orient": "none", "legendX": 314.2, "legendY": 13, "title": null, "symbolType": "M0,-1L0.55,0L0,1L-0.55,0Z", "symbolSize": 49, "symbolStrokeColor": "#444444", "symbolStrokeWidth": 1, "labelFont": "DejaVu Sans", "labelFontSize": 6.5, "labelOpacity": 0, "rowPadding": 6, "padding": 0}}
                  }
                }
              ]
            }
          ]
        }
      ]
    }
  ],
  "config": {
    "view": {"stroke": null},
    "font": "Liberation Sans",
    "title": {"fontWeight": "normal"},
    "axis": {"titleFontWeight": "normal"}
  }
}
